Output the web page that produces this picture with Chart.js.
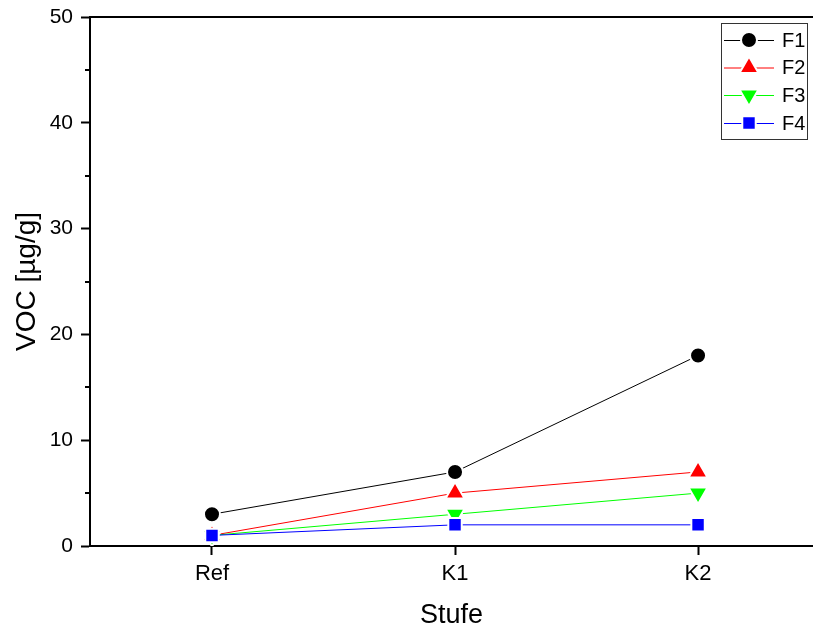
<!DOCTYPE html>
<html>
<head>
<meta charset="utf-8">
<script src="https://cdn.jsdelivr.net/npm/chart.js@4/dist/chart.umd.min.js"></script>
<style>
  html, body { margin: 0; padding: 0; background: #fff; overflow: hidden; }
  #wrap { width: 813px; height: 630px; position: relative; }
</style>
</head>
<body>
<div id="wrap"><canvas id="c"></canvas></div>
<script>
// Stages on the x axis and VOC content per formulation
const stages = ['Ref', 'K1', 'K2'];
const seriesNames = ['F1', 'F2', 'F3', 'F4'];
const f1 = [3, 7, 18];
const f2 = [1, 5, 7];
const f3 = [1, 3, 5];
const f4 = [1, 2, 2];
const yMajorTicks = [0, 10, 20, 30, 40, 50];
const yMinorTicks = [5, 15, 25, 35, 45];

const FONT = '"Liberation Sans", Arial, sans-serif';

const styles = [
  { color: '#000000', pointStyle: 'circle', radius: 8, rotation: 0 },
  { color: '#ff0000', pointStyle: 'triangle', radius: 11, rotation: 0 },
  { color: '#00ff00', pointStyle: 'triangle', radius: 11, rotation: 180 },
  { color: '#0000ff', pointStyle: 'rect', radius: 9.5, rotation: 0 }
];
const values = [f1, f2, f3, f4];

const datasets = seriesNames.map((name, i) => ({
  label: name,
  data: values[i].map((v, j) => ({ x: j, y: v })),
  borderColor: styles[i].color,
  backgroundColor: styles[i].color,
  borderWidth: 1,
  pointStyle: styles[i].pointStyle,
  pointRotation: styles[i].rotation,
  pointRadius: styles[i].radius,
  pointHoverRadius: styles[i].radius,
  pointBackgroundColor: styles[i].color,
  pointBorderColor: '#ffffff',
  pointBorderWidth: 2,
  order: seriesNames.length - i,
  tension: 0
}));

function drawMarker(ctx, ds, x, y) {
  ctx.save();
  ctx.fillStyle = ds.pointBackgroundColor;
  ctx.strokeStyle = '#fff';
  ctx.lineWidth = 2;
  Chart.helpers.drawPoint(ctx, {
    pointStyle: ds.pointStyle,
    rotation: ds.pointRotation,
    radius: ds.pointRadius,
    borderWidth: 2
  }, x, y);
  ctx.restore();
}

// Frame line on top, minor y ticks and the boxed legend
const extras = {
  id: 'extras',
  afterDraw(chart) {
    const ctx = chart.ctx;
    const area = chart.chartArea;
    const y = chart.scales.y;
    ctx.save();
    ctx.strokeStyle = '#000';
    ctx.lineWidth = 2;
    ctx.beginPath();
    ctx.moveTo(area.left - 1, area.top);
    ctx.lineTo(chart.width, area.top);
    ctx.stroke();
    yMinorTicks.forEach(v => {
      const py = Math.round(y.getPixelForValue(v));
      ctx.beginPath();
      ctx.moveTo(area.left - 5, py);
      ctx.lineTo(area.left, py);
      ctx.stroke();
    });

    // legend box
    const bx = 721.5, by = 23.5, bw = 86, bh = 116;
    ctx.lineWidth = 1;
    ctx.strokeStyle = '#333';
    ctx.strokeRect(bx, by, bw, bh);
    const rowY = [40, 67.5, 95, 123];
    chart.data.datasets.forEach((ds, i) => {
      const ry = rowY[i];
      ctx.strokeStyle = ds.borderColor;
      ctx.lineWidth = 1;
      ctx.beginPath();
      ctx.moveTo(724, ry + 0.5);
      ctx.lineTo(774, ry + 0.5);
      ctx.stroke();
      drawMarker(ctx, ds, 749, ry);
      ctx.fillStyle = '#000';
      ctx.font = '20px ' + FONT;
      ctx.textAlign = 'left';
      ctx.textBaseline = 'middle';
      ctx.fillText(ds.label, 782, ry + 1);
    });
    ctx.restore();
  }
};

new Chart(document.getElementById('c'), {
  type: 'line',
  data: { datasets },
  plugins: [extras],
  options: {
    responsive: true,
    maintainAspectRatio: false,
    animation: false,
    devicePixelRatio: 1,
    layout: { autoPadding: false, padding: { top: 17, right: 0, left: 0, bottom: 0 } },
    plugins: { legend: { display: false }, tooltip: { enabled: false } },
    scales: {
      x: {
        type: 'linear',
        min: -0.502,
        max: 2.473,
        afterBuildTicks: s => { s.ticks = stages.map((_, i) => ({ value: i })); },
        afterFit: s => { s.height = 84; s.paddingLeft = 0; s.paddingRight = 0; },
        ticks: {
          callback: v => stages[v],
          font: { family: FONT, size: 22 },
          color: '#000',
          padding: 6,
          maxRotation: 0
        },
        grid: { drawOnChartArea: false, tickLength: 9, tickWidth: 2, tickColor: '#000' },
        border: { color: '#000', width: 2 },
        title: {
          display: true,
          text: 'Stufe',
          font: { family: FONT, size: 27 },
          color: '#000',
          padding: { top: 0, bottom: -2 }
        }
      },
      y: {
        min: 0,
        max: 50,
        afterBuildTicks: s => { s.ticks = yMajorTicks.map(v => ({ value: v })); },
        afterFit: s => { s.width = 90; s.paddingTop = 0; s.paddingBottom = 0; },
        ticks: {
          font: { family: FONT, size: 21 },
          color: '#000',
          padding: 8
        },
        grid: { drawOnChartArea: false, tickLength: 9, tickWidth: 2, tickColor: '#000' },
        border: { color: '#000', width: 2 },
        title: {
          display: true,
          text: 'VOC [µg/g]',
          font: { family: FONT, size: 28 },
          color: '#000',
          padding: { top: 10, bottom: 0 }
        }
      }
    }
  }
});
</script>
</body>
</html>
